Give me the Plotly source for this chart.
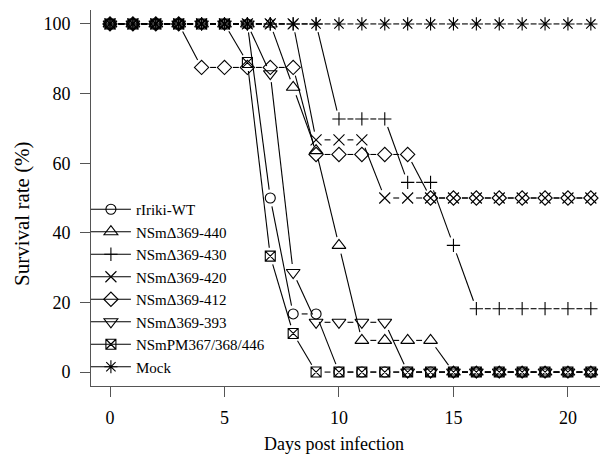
import math
import plotly.graph_objects as go

days = list(range(22))

series_names = ["rIriki-WT", "NSmΔ369-440", "NSmΔ369-430", "NSmΔ369-420",
                "NSmΔ369-412", "NSmΔ369-393", "NSmPM367/368/446", "Mock"]

rIriki_WT = [100] * 7 + [50, 16.7, 16.7] + [0] * 12
NSm_369_440 = [100] * 8 + [81.8, 63.6, 36.4, 9.1, 9.1, 9.1, 9.1] + [0] * 7
NSm_369_430 = [100] * 10 + [72.7, 72.7, 72.7, 54.5, 54.5, 36.4] + [18.2] * 6
NSm_369_420 = [100] * 9 + [66.7, 66.7, 66.7] + [50] * 10
NSm_369_412 = [100] * 4 + [87.5] * 5 + [62.5] * 5 + [50] * 8
NSm_369_393 = [100] * 7 + [85.7, 28.6, 14.3, 14.3, 14.3, 14.3] + [0] * 9
NSmPM = [100] * 6 + [88.9, 33.3, 11.1] + [0] * 13
Mock = [100] * 22

values = [rIriki_WT, NSm_369_440, NSm_369_430, NSm_369_420,
          NSm_369_412, NSm_369_393, NSmPM, Mock]

symbols = ["circle-open", "triangle-up-open", "cross-thin-open", "x-thin-open",
           "diamond-open", "triangle-down-open", "square-x-open", "asterisk-open"]
sizes = [10, 12, 9.5, 11, 11, 12, 10, 11]

x_ticks = [0, 5, 10, 15, 20]
y_ticks = [0, 20, 40, 60, 80, 100]

W, H = 600, 455
ML, MR, MT, MB = 91, 0, 10, 69
XR = [-0.83, 21.40]
YR = [-4, 104]
plot_w = W - ML - MR
plot_h = H - MT - MB
sx = plot_w / (XR[1] - XR[0])
sy = plot_h / (YR[1] - YR[0])


def gapped(xs, ys, gap=8.5):
    """R type='b' style: segments shortened near each point."""
    gx, gy = [], []
    for x0, y0, x1, y1 in zip(xs, ys, xs[1:], ys[1:]):
        dx = (x1 - x0) * sx
        dy = (y1 - y0) * sy
        L = math.hypot(dx, dy)
        if L <= 2 * gap:
            continue
        f = gap / L
        gx += [x0 + (x1 - x0) * f, x1 - (x1 - x0) * f, None]
        gy += [y0 + (y1 - y0) * f, y1 - (y1 - y0) * f, None]
    return gx, gy


fig = go.Figure()
for name, vals, sym, sz in zip(series_names, values, symbols, sizes):
    gx, gy = gapped(days, vals)
    fig.add_trace(go.Scatter(x=gx, y=gy, mode="lines", showlegend=False,
                             line=dict(color="black", width=1.1),
                             hoverinfo="skip"))
    fig.add_trace(go.Scatter(x=days, y=vals, mode="markers", showlegend=False,
                             name=name,
                             marker=dict(symbol=sym, size=sz, color="black",
                                         line=dict(color="black", width=1.1))))
    fig.add_trace(go.Scatter(x=[None], y=[None], mode="lines+markers", name=name,
                             line=dict(color="black", width=1.1),
                             marker=dict(symbol=sym, size=sz, color="black",
                                         line=dict(color="black", width=1.1))))

axis_font = dict(family="Liberation Serif", size=18, color="black")
fig.update_layout(
    width=W, height=H,
    margin=dict(l=ML, r=MR, t=MT, b=MB),
    paper_bgcolor="white", plot_bgcolor="white",
    font=dict(family="Liberation Serif", color="black"),
    xaxis=dict(range=XR, tickvals=x_ticks, ticktext=[str(t) for t in x_ticks],
               showgrid=False, zeroline=False, showline=True, linecolor="#555",
               linewidth=1, ticks="outside", ticklen=10, tickcolor="#555",
               tickfont=axis_font, ticklabelstandoff=5),
    yaxis=dict(range=YR, tickvals=y_ticks, ticktext=[str(t) for t in y_ticks],
               showgrid=False, zeroline=False, showline=True, linecolor="#555",
               linewidth=1, ticks="outside", ticklen=10, tickcolor="#555",
               tickfont=axis_font, ticklabelstandoff=6),
    legend=dict(x=-0.01, y=0.008, xanchor="left", yanchor="bottom",
                bgcolor="rgba(0,0,0,0)", borderwidth=0, itemwidth=40,
                font=dict(family="Liberation Serif", size=15, color="black"),
                tracegroupgap=0),
    annotations=[
        dict(text="Survival rate (%)", xref="paper", yref="paper",
             x=(22 - ML) / plot_w, y=(H - MB - 214) / plot_h,
             xanchor="center", yanchor="middle", textangle=-90, showarrow=False,
             font=dict(family="Liberation Serif", size=21, color="black")),
        dict(text="Days post infection", xref="paper", yref="paper",
             x=(334 - ML) / plot_w, y=(H - MB - 444) / plot_h,
             xanchor="center", yanchor="middle", showarrow=False,
             font=dict(family="Liberation Serif", size=18, color="black")),
    ],
)

fig.write_html(
    "out.html",
    config={"displayModeBar": False},
    post_script="document.body.style.margin='0';document.body.style.padding='0';",
)
